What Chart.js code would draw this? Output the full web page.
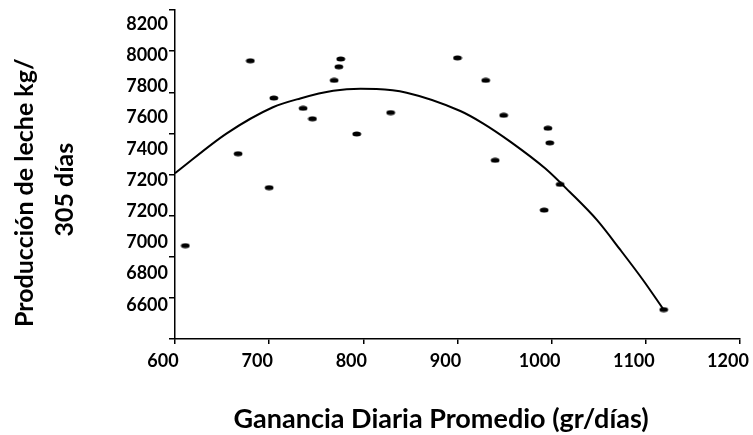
<!DOCTYPE html>
<html>
<head>
<meta charset="utf-8">
<script src="https://cdn.jsdelivr.net/npm/chart.js@4"></script>
<style>
  html, body { margin: 0; padding: 0; background: #fff; }
  #wrap { width: 753px; height: 435px; }
</style>
</head>
<body>
<div id="wrap"><canvas id="c" width="753" height="435"></canvas></div>
<script>
// Average daily gain (g/day) of each cow and its 305-day milk yield (kg)
const gainGrams = [611, 680, 667, 700, 705, 736, 746, 769, 774, 776, 793, 829, 900, 930, 949, 940, 996, 998, 1009, 992, 1119];
const milkKg    = [6854, 7753, 7301, 7136, 7572, 7522, 7471, 7658, 7724, 7762, 7397, 7501, 7767, 7658, 7488, 7269, 7425, 7354, 7152, 7027, 6543];

// Fitted trend curve, sampled along the gain axis
const trendGain = [600, 655, 704, 733, 768, 797, 814, 846, 903, 927, 956, 993, 1019, 1048, 1073, 1097, 1119];
const trendMilk = [7206, 7400, 7527, 7570, 7607, 7617, 7616, 7598, 7509, 7449, 7360, 7230, 7116, 6979, 6833, 6687, 6542];

// Printed labels of the vertical axis, top to bottom
const yTickLabels = ['8200', '8000', '7800', '7600', '7400', '7200', '7200', '7000', '6800', '6600'];

const xTitle = 'Ganancia Diaria Promedio (gr/días)';
const yTitle = ['Producción de leche kg/', '305 días'];

const FONT = 'Lato';

// small black ellipse used as the marker
function ellipseMarker() {
  const cv = document.createElement('canvas');
  cv.width = 10; cv.height = 6;
  const g = cv.getContext('2d');
  g.fillStyle = '#000';
  g.beginPath();
  g.ellipse(5, 3, 4.4, 2.5, 0, 0, Math.PI * 2);
  g.fill();
  return cv;
}

const points = gainGrams.map((g, i) => ({ x: g, y: milkKg[i] }));
const trend = trendGain.map((g, i) => ({ x: g, y: trendMilk[i] }));

new Chart(document.getElementById('c'), {
  type: 'scatter',
  data: {
    datasets: [
      {
        data: points,
        pointStyle: ellipseMarker(),
        pointRadius: 4,
        pointHoverRadius: 4,
        showLine: false
      },
      {
        data: trend,
        showLine: true,
        borderColor: '#000',
        borderWidth: 2,
        pointRadius: 0,
        pointHoverRadius: 0,
        cubicInterpolationMode: 'monotone',
        fill: false
      }
    ]
  },
  options: {
    responsive: false,
    animation: false,
    events: [],
    layout: { padding: { left: 0, right: 13, top: 10, bottom: 0 } },
    plugins: { legend: { display: false }, tooltip: { enabled: false } },
    scales: {
      x: {
        type: 'linear',
        position: 'bottom',
        min: 600,
        max: 1200,
        ticks: {
          stepSize: 100,
          color: '#000',
          padding: 6,
          labelOffset: -12,
          maxRotation: 0,
          font: { family: FONT, size: 18, weight: 'bold' },
          callback: (v) => String(v)
        },
        grid: { drawOnChartArea: false, drawTicks: true, tickLength: 5, color: '#000', lineWidth: 1.5 },
        border: { display: true, color: '#000', width: 1.5 },
        title: {
          display: true,
          text: xTitle + '     ',
          color: '#000',
          padding: { top: 0, bottom: 0 },
          font: { family: FONT, size: 27, weight: 'bold' }
        },
        afterFit: (s) => { s.height = 96; s.paddingLeft = 0; s.paddingRight = 0; }
      },
      y: {
        type: 'linear',
        position: 'left',
        weight: 0,
        min: 6400,
        max: 8000,
        ticks: { stepSize: 200, display: false },
        grid: { drawOnChartArea: false, drawTicks: true, tickLength: 6, color: '#000', lineWidth: 1.5 },
        border: { display: true, color: '#000', width: 1.5 },
        afterFit: (s) => { s.width = 6; s.paddingTop = 0; s.paddingBottom = 0; }
      },
      yLabels: {
        type: 'linear',
        position: 'left',
        weight: 1,
        reverse: true,
        min: -0.449,
        max: 10.096,
        afterBuildTicks: (s) => { s.ticks = yTickLabels.map((_, i) => ({ value: i })); },
        ticks: {
          autoSkip: false,
          color: '#000',
          padding: 1,
          font: { family: FONT, size: 18, weight: 'bold' },
          callback: (v) => yTickLabels[v]
        },
        grid: { display: false, drawTicks: false },
        border: { display: false },
        title: {
          display: true,
          text: [yTitle[0] + '      ', yTitle[1] + '     '],
          color: '#000',
          padding: { top: 5, bottom: 0 },
          font: { family: FONT, size: 25, weight: 'bold', lineHeight: '40px' }
        },
        afterFit: (s) => { s.width = 169; s.paddingTop = 0; s.paddingBottom = 0; }
      }
    }
  }
});
</script>
</body>
</html>
